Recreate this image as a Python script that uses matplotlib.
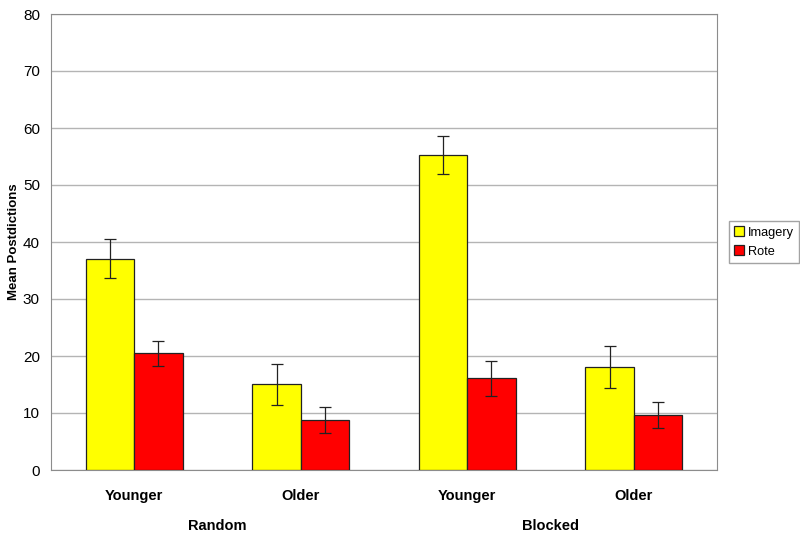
import matplotlib.pyplot as plt
import numpy as np

plt.rcParams['font.family'] = ['Liberation Sans', 'DejaVu Sans']

groups = ['Younger', 'Older', 'Younger', 'Older']
conditions = ['Random', 'Blocked']
imagery = [37.1, 15.1, 55.2, 18.1]
imagery_lo = [33.6, 11.4, 51.9, 14.4]
imagery_hi = [40.5, 18.6, 58.6, 21.7]
rote = [20.5, 8.7, 16.1, 9.6]
rote_lo = [18.3, 6.5, 12.9, 7.4]
rote_hi = [22.6, 11.1, 19.2, 12.0]

fig = plt.figure(figsize=(8, 5.39), dpi=100)
ax = fig.add_axes([51/800, 69/539, 666/800, 456/539])

x = np.arange(len(groups))
w = 0.29
err_im = [np.array(imagery) - np.array(imagery_lo), np.array(imagery_hi) - np.array(imagery)]
err_ro = [np.array(rote) - np.array(rote_lo), np.array(rote_hi) - np.array(rote)]

ax.bar(x - w/2, imagery, w, color='#ffff00', edgecolor='#222222', linewidth=0.9,
       label='Imagery', zorder=3)
ax.bar(x + w/2, rote, w, color='#ff0000', edgecolor='#222222', linewidth=0.9,
       label='Rote', zorder=3)
ax.errorbar(x - w/2, imagery, yerr=err_im, fmt='none', ecolor='#222222',
            elinewidth=0.9, capsize=4, capthick=0.9, zorder=4)
ax.errorbar(x + w/2, rote, yerr=err_ro, fmt='none', ecolor='#222222',
            elinewidth=0.9, capsize=4, capthick=0.9, zorder=4)

ax.set_xlim(-0.5, 3.5)
ax.set_ylim(0, 80)
ax.set_yticks(range(0, 81, 10))
ax.yaxis.grid(True, color='#b4b4b4', linewidth=1)
ax.set_axisbelow(True)
for s in ax.spines.values():
    s.set_color('#8c8c8c')
ax.tick_params(axis='y', length=0, labelsize=11, pad=8)
ax.tick_params(axis='x', length=0, pad=14)
ax.set_xticks(x)
ax.set_xticklabels(groups, fontsize=10.5, fontweight='bold')
ax.set_ylabel('Mean Postdictions', fontsize=9.5, fontweight='bold')
ax.yaxis.set_label_coords(-0.046, 0.5)

for i, c in enumerate(conditions):
    ax.text(2*i + 0.5, -0.123, c, transform=ax.get_xaxis_transform(),
            ha='center', va='center', fontsize=10.5, fontweight='bold')

ax.legend(loc='center left', bbox_to_anchor=(1.012, 0.5), fontsize=9.2,
          frameon=True, fancybox=False, edgecolor='#8c8c8c', handlelength=0.8,
          handleheight=0.8, handletextpad=0.3, borderpad=0.4, labelspacing=0.5,
          borderaxespad=0.3)

fig.savefig('out.png', dpi=100)
